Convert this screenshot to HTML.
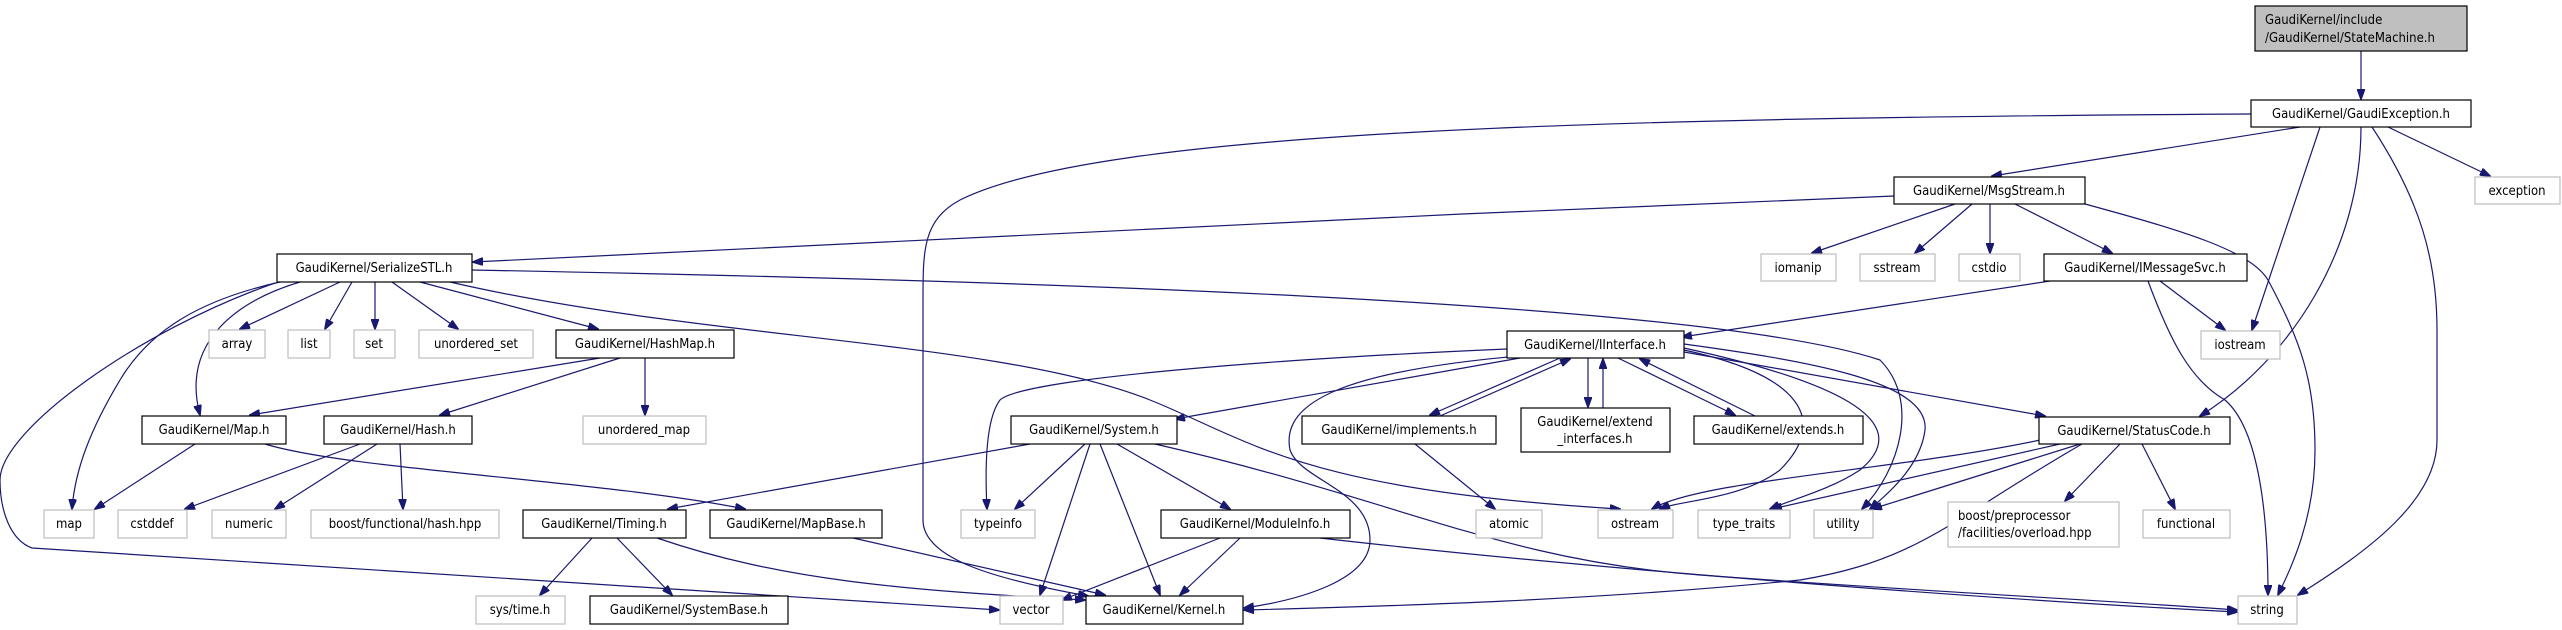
<!DOCTYPE html>
<html><head><meta charset="utf-8"><style>
html,body{margin:0;padding:0;background:#fff;}
svg{display:block;}
text{font-family:"DejaVu Sans Condensed","Liberation Sans",sans-serif;font-size:13px;fill:#000;}
.e{fill:none;stroke:#191970;stroke-width:1.2;}
.n{fill:#fff;stroke:#000;stroke-width:1.2;}
.g{fill:#fff;stroke:#bfbfbf;stroke-width:1.2;}
</style></head><body>
<svg width="2562" height="630" viewBox="0 0 2562 630" xmlns="http://www.w3.org/2000/svg">
<defs><marker id="a" markerWidth="11" markerHeight="8" refX="10" refY="4" orient="auto" markerUnits="userSpaceOnUse"><path d="M0,0 L11,4 L0,8 z" fill="#191970" stroke="#191970"/></marker></defs>
<g class="e" marker-end="url(#a)">
<path d="M2361,51 L2361,99"/>
<path d="M2300,127 L1992,176"/>
<path d="M2251,114 C1600,118 1100,130 960,200 C923,220 923,250 923,300 L923,520 C923,560 1000,580 1088,596"/>
<path d="M2320,127 L2252,330"/>
<path d="M2361,127 C2361,250 2290,360 2200,416"/>
<path d="M2372,127 C2420,200 2437,260 2437,330 L2437,440 C2437,500 2370,550 2298,595"/>
<path d="M2388,127 L2490,176"/>
<path d="M1894,196 C1400,215 800,245 473,262"/>
<path d="M1955,204 L1812,253"/>
<path d="M1972,204 L1915,253"/>
<path d="M1990,204 L1990,253"/>
<path d="M2015,204 L2112,253"/>
<path d="M2085,204 C2180,230 2250,250 2268,280 C2300,340 2315,380 2315,450 C2315,520 2290,570 2278,595"/>
<path d="M2148,281 C2170,340 2190,380 2225,400 C2260,430 2268,520 2268,595"/>
<path d="M2160,281 L2225,330"/>
<path d="M2050,281 L1682,337"/>
<path d="M340,282 L240,329"/>
<path d="M352,282 L325,329"/>
<path d="M375,282 L375,329"/>
<path d="M392,282 L458,329"/>
<path d="M420,282 L598,329"/>
<path d="M300,282 C240,300 180,340 200,415"/>
<path d="M280,282 C200,300 150,330 120,380 C90,430 75,470 72,509"/>
<path d="M275,283 C140,330 0,430 0,480 C0,510 10,540 32,548 L999,610"/>
<path d="M450,282 C700,340 1000,340 1150,400 C1250,440 1300,490 1620,509"/>
<path d="M472,270 C1000,280 1700,300 1880,360 C1920,400 1900,470 1862,509"/>
<path d="M600,358 L250,415"/>
<path d="M620,358 L440,415"/>
<path d="M645,358 L645,415"/>
<path d="M195,444 L95,509"/>
<path d="M265,444 C350,470 600,480 745,509"/>
<path d="M360,444 L185,509"/>
<path d="M377,444 L275,509"/>
<path d="M400,444 L403,509"/>
<path d="M1520,358 L1175,419"/>
<path d="M1560,358 L1430,415"/>
<path d="M1440,416 L1570,359"/>
<path d="M1588,358 L1588,407"/>
<path d="M1603,408 L1603,359"/>
<path d="M1618,358 L1735,415"/>
<path d="M1755,416 L1640,359"/>
<path d="M1684,352 L2045,416"/>
<path d="M1507,349 C1250,360 1020,380 1000,400 C985,420 985,470 987,509"/>
<path d="M1530,355 C1350,370 1280,400 1290,450 C1300,480 1370,490 1370,540 C1370,580 1300,600 1244,608"/>
<path d="M1684,350 C1800,375 1830,420 1780,470 C1740,500 1680,500 1660,509"/>
<path d="M1684,348 C1830,380 1920,420 1860,470 C1830,490 1790,500 1770,509"/>
<path d="M1684,344 C1800,360 1930,380 1925,430 C1920,470 1880,500 1870,509"/>
<path d="M2040,440 C1900,470 1700,480 1652,509"/>
<path d="M2060,444 L1772,509"/>
<path d="M2080,444 L1872,509"/>
<path d="M2120,444 L2065,501"/>
<path d="M2142,444 L2175,509"/>
<path d="M2082,444 C1950,520 1920,560 1800,580 C1600,600 1400,606 1244,610"/>
<path d="M1030,444 L668,509"/>
<path d="M1085,444 L1015,509"/>
<path d="M1090,444 L1040,595"/>
<path d="M1100,444 L1160,595"/>
<path d="M1117,444 L1230,509"/>
<path d="M1155,444 C1400,500 1500,560 1700,575 C1900,590 2100,600 2237,610"/>
<path d="M1220,538 L1062,600"/>
<path d="M1240,538 L1180,595"/>
<path d="M1320,538 C1600,570 2000,600 2237,612"/>
<path d="M1415,444 L1495,509"/>
<path d="M592,538 L540,595"/>
<path d="M617,538 L672,595"/>
<path d="M657,538 C780,580 900,590 1085,600"/>
<path d="M853,538 L1105,595"/>
</g>
<rect x="2255" y="6" width="212" height="45" fill="#bfbfbf" stroke="#000" stroke-width="1.2"/>
<text x="2265" y="24">GaudiKernel/include</text>
<text x="2265" y="42">/GaudiKernel/StateMachine.h</text>
<g id="nodes">
<rect class="n" x="2251" y="100" width="220" height="27"/><text x="2361" y="118" text-anchor="middle">GaudiKernel/GaudiException.h</text>
<rect class="n" x="1894" y="177" width="191" height="27"/><text x="1989" y="195" text-anchor="middle">GaudiKernel/MsgStream.h</text>
<rect class="g" x="2475" y="177" width="85" height="27"/><text x="2517" y="195" text-anchor="middle">exception</text>
<rect class="n" x="277" y="254" width="195" height="28"/><text x="374" y="272" text-anchor="middle">GaudiKernel/SerializeSTL.h</text>
<rect class="g" x="1761" y="254" width="75" height="27"/><text x="1798" y="272" text-anchor="middle">iomanip</text>
<rect class="g" x="1860" y="254" width="75" height="27"/><text x="1897" y="272" text-anchor="middle">sstream</text>
<rect class="g" x="1959" y="254" width="61" height="27"/><text x="1989" y="272" text-anchor="middle">cstdio</text>
<rect class="n" x="2044" y="254" width="203" height="27"/><text x="2145" y="272" text-anchor="middle">GaudiKernel/IMessageSvc.h</text>
<rect class="g" x="209" y="330" width="56" height="28"/><text x="237" y="348" text-anchor="middle">array</text>
<rect class="g" x="288" y="330" width="42" height="28"/><text x="309" y="348" text-anchor="middle">list</text>
<rect class="g" x="354" y="330" width="41" height="28"/><text x="374" y="348" text-anchor="middle">set</text>
<rect class="g" x="419" y="330" width="114" height="28"/><text x="476" y="348" text-anchor="middle">unordered_set</text>
<rect class="n" x="556" y="330" width="178" height="28"/><text x="645" y="348" text-anchor="middle">GaudiKernel/HashMap.h</text>
<rect class="n" x="1507" y="331" width="177" height="27"/><text x="1595" y="349" text-anchor="middle">GaudiKernel/IInterface.h</text>
<rect class="g" x="2201" y="331" width="79" height="28"/><text x="2240" y="349" text-anchor="middle">iostream</text>
<rect class="n" x="142" y="416" width="144" height="28"/><text x="214" y="434" text-anchor="middle">GaudiKernel/Map.h</text>
<rect class="n" x="324" y="416" width="148" height="28"/><text x="398" y="434" text-anchor="middle">GaudiKernel/Hash.h</text>
<rect class="g" x="583" y="416" width="123" height="28"/><text x="644" y="434" text-anchor="middle">unordered_map</text>
<rect class="n" x="1011" y="416" width="166" height="28"/><text x="1094" y="434" text-anchor="middle">GaudiKernel/System.h</text>
<rect class="n" x="1302" y="416" width="194" height="28"/><text x="1399" y="434" text-anchor="middle">GaudiKernel/implements.h</text>
<rect class="n" x="1521" y="408" width="149" height="44"/><text x="1595" y="426" text-anchor="middle">GaudiKernel/extend</text><text x="1595" y="443" text-anchor="middle">_interfaces.h</text>
<rect class="n" x="1694" y="416" width="169" height="28"/><text x="1778" y="434" text-anchor="middle">GaudiKernel/extends.h</text>
<rect class="n" x="2039" y="417" width="191" height="27"/><text x="2134" y="435" text-anchor="middle">GaudiKernel/StatusCode.h</text>
<rect class="g" x="44" y="510" width="50" height="28"/><text x="69" y="528" text-anchor="middle">map</text>
<rect class="g" x="118" y="510" width="69" height="28"/><text x="152" y="528" text-anchor="middle">cstddef</text>
<rect class="g" x="212" y="510" width="74" height="28"/><text x="249" y="528" text-anchor="middle">numeric</text>
<rect class="g" x="311" y="510" width="188" height="28"/><text x="405" y="528" text-anchor="middle">boost/functional/hash.hpp</text>
<rect class="n" x="523" y="510" width="163" height="28"/><text x="604" y="528" text-anchor="middle">GaudiKernel/Timing.h</text>
<rect class="n" x="710" y="510" width="172" height="28"/><text x="796" y="528" text-anchor="middle">GaudiKernel/MapBase.h</text>
<rect class="g" x="961" y="510" width="74" height="28"/><text x="998" y="528" text-anchor="middle">typeinfo</text>
<rect class="n" x="1161" y="510" width="189" height="28"/><text x="1255" y="528" text-anchor="middle">GaudiKernel/ModuleInfo.h</text>
<rect class="g" x="1476" y="510" width="66" height="28"/><text x="1509" y="528" text-anchor="middle">atomic</text>
<rect class="g" x="1598" y="510" width="75" height="28"/><text x="1635" y="528" text-anchor="middle">ostream</text>
<rect class="g" x="1698" y="510" width="92" height="28"/><text x="1744" y="528" text-anchor="middle">type_traits</text>
<rect class="g" x="1814" y="510" width="59" height="28"/><text x="1843" y="528" text-anchor="middle">utility</text>
<rect class="g" x="1948" y="502" width="171" height="45"/><text x="1958" y="520">boost/preprocessor</text><text x="1958" y="537">/facilities/overload.hpp</text>
<rect class="g" x="2143" y="510" width="87" height="28"/><text x="2186" y="528" text-anchor="middle">functional</text>
<rect class="g" x="476" y="596" width="89" height="28"/><text x="520" y="614" text-anchor="middle">sys/time.h</text>
<rect class="n" x="590" y="596" width="198" height="28"/><text x="689" y="614" text-anchor="middle">GaudiKernel/SystemBase.h</text>
<rect class="g" x="1000" y="596" width="63" height="28"/><text x="1031" y="614" text-anchor="middle">vector</text>
<rect class="n" x="1086" y="596" width="157" height="28"/><text x="1164" y="614" text-anchor="middle">GaudiKernel/Kernel.h</text>
<rect class="g" x="2238" y="596" width="59" height="28"/><text x="2267" y="614" text-anchor="middle">string</text>
</g>
</svg>
</body></html>
